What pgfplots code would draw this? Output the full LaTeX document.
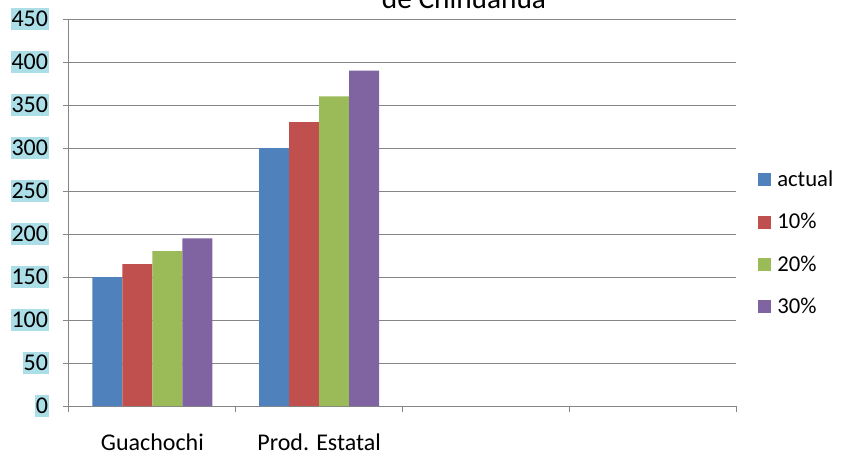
\documentclass[border=0pt]{standalone}
\usepackage{fontspec}
\setmainfont{Carlito}
\usepackage{pgfplots}
\pgfplotsset{compat=1.18}
\definecolor{cA}{RGB}{79,129,189}
\definecolor{cB}{RGB}{192,80,77}
\definecolor{cC}{RGB}{155,187,89}
\definecolor{cD}{RGB}{128,100,162}
\definecolor{gridc}{RGB}{134,134,134}
\definecolor{labbg}{RGB}{172,222,232}
\begin{document}
\begin{tikzpicture}
\begin{axis}[
  at={(51.75pt,-304.5pt)}, anchor=south west,
  scale only axis, width=500.25pt, height=290.25pt,
  ybar=0pt, bar width=0.18,
  xmin=-0.5, xmax=3.5, ymin=0, ymax=450,
  xtick={-0.5,0.5,1.5,2.5,3.5}, xticklabels={},
  extra x ticks={0,1},
  extra x tick labels={Guachochi,Prod. Estatal},
  extra x tick style={major tick length=0pt, grid=none,
     xticklabel style={anchor=base, yshift=-33pt}},
  ytick={0,50,...,450},
  axis x line*=bottom, axis y line*=left,
  axis line style={-, gridc, line width=0.75pt},
  ymajorgrids, grid style={gridc, line width=0.75pt},
  tick style={gridc, line width=0.75pt},
  tick align=outside, major tick length=4.5pt,
  /pgf/number format/assume math mode=true,
  ticklabel style={font=\fontsize{18}{18}\selectfont, text=black},
  yticklabel style={fill=labbg, inner xsep=0.5pt, inner ysep=2.5pt, xshift=-10.5pt},
  legend style={at={(1.033,0.421)}, anchor=west, draw=none, fill=none,
     font=\fontsize{17}{17}\selectfont, row sep=14.5pt, inner sep=0pt,
     nodes={inner xsep=4.5pt}},
  legend cell align=left,
  legend image code/.code={\fill[#1] (0pt,-4.875pt) rectangle (9.75pt,4.875pt);},
]
\addplot[fill=cA, draw=none] coordinates {(0,150) (1,300)};
\addplot[fill=cB, draw=none] coordinates {(0,165) (1,330)};
\addplot[fill=cC, draw=none] coordinates {(0,180) (1,360)};
\addplot[fill=cD, draw=none] coordinates {(0,195) (1,390)};
\legend{actual,10\%,20\%,30\%}
\end{axis}
\node[anchor=base, font=\fontsize{22}{22}\selectfont] at (348pt,-6pt) {de Chihuahua};
\pgfresetboundingbox
\useasboundingbox (0,0) rectangle (630.75pt,-341.25pt);
\end{tikzpicture}
\end{document}
